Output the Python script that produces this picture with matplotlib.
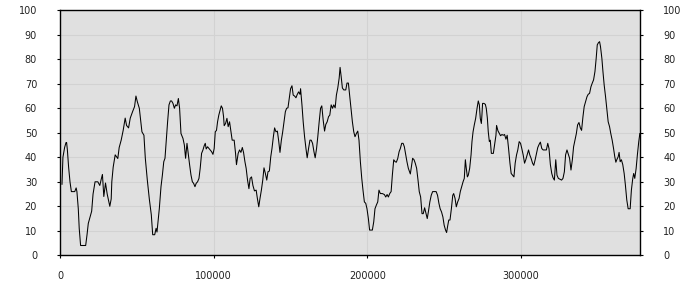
import matplotlib
matplotlib.use("Agg")
import matplotlib.pyplot as plt

# x positions in thousands
x_k = [1.3, 1.9, 3.0, 3.9, 4.3, 4.8, 5.6, 6.5, 7.4, 9.6, 10.5, 11.0, 11.9, 12.5, 13.4, 16.7,
       17.6, 18.4, 19.5, 20.6, 21.5, 22.8, 24.6, 25.9, 26.8, 27.6, 28.5, 29.6, 30.7, 32.4,
       33.3, 33.7, 34.6, 35.9, 37.6, 38.5, 39.8, 41.1, 42.4, 43.3, 44.6, 45.7, 47.2, 48.5,
       49.4, 50.3, 51.6, 53.3, 54.6, 55.5, 56.8, 58.1, 59.4, 60.3, 61.6, 62.5, 63.1, 64.0,
       64.6, 65.1, 65.7, 66.6, 67.5, 68.3, 69.2, 70.0, 70.9, 71.8, 72.6, 73.5, 74.4, 75.2,
       76.1, 77.0, 77.8, 78.7, 80.0, 80.9, 81.7, 82.6, 83.5, 84.3, 85.2, 86.1, 86.9, 87.8,
       88.6, 89.5, 90.4, 91.2, 92.1, 93.0, 93.8, 94.5, 95.1, 96.0, 96.9, 97.7, 98.6, 99.5,
       100.3, 101.0, 101.8, 102.5, 103.3, 104.2, 104.9, 105.7, 106.4, 106.8, 107.7, 108.6,
       109.4, 110.3, 111.2, 112.0, 113.3, 114.2, 114.8, 115.3, 115.9, 116.8, 117.7, 118.6,
       119.4, 120.3, 121.1, 122.0, 122.9, 123.7, 124.6, 125.5, 126.5, 127.6, 128.4, 129.3,
       130.1, 131.0, 131.9, 132.7, 133.6, 134.5, 135.3, 136.2, 137.1, 137.9, 138.8, 139.6,
       140.5, 141.4, 142.2, 143.1, 144.0, 144.8, 145.7, 146.6, 147.4, 148.3, 149.1, 150.0,
       150.9, 151.7, 152.6, 153.5, 154.3, 155.2, 156.1, 156.5, 157.4, 158.2, 159.1, 160.0,
       160.8, 161.7, 162.6, 163.4, 164.3, 165.2, 166.0, 166.9, 167.7, 168.6, 169.5, 170.3,
       171.2, 172.1, 172.9, 173.8, 174.7, 175.5, 176.4, 177.3, 178.1, 179.0, 179.8, 180.7,
       181.6, 182.2, 182.9, 183.7, 184.6, 185.9, 186.7, 187.6, 188.3, 189.1, 190.2, 191.1,
       191.9, 192.8, 193.7, 194.5, 195.4, 196.3, 197.1, 198.0, 198.9, 199.7, 200.6, 201.4,
       203.2, 204.1, 204.9, 205.8, 206.7, 207.5, 208.4, 209.7, 211.0, 211.9, 212.8, 213.6,
       214.5, 215.4, 216.2, 217.1, 218.0, 218.8, 219.7, 220.6, 221.4, 222.3, 223.2, 224.0,
       224.9, 225.7, 226.6, 227.9, 228.8, 229.4, 230.3, 231.1, 232.0, 232.9, 233.7, 234.6,
       235.5, 236.3, 237.2, 238.1, 238.9, 239.8, 240.6, 241.5, 242.4, 244.7, 245.6, 246.5,
       247.3, 248.2, 249.1, 249.9, 250.8, 251.5, 252.2, 252.9, 253.7, 254.6, 255.5, 256.1,
       257.0, 257.8, 258.7, 259.6, 260.4, 261.3, 262.2, 263.0, 263.7, 264.3, 265.0, 265.6,
       266.5, 267.4, 268.0, 268.7, 269.5, 270.4, 271.3, 272.1, 272.8, 273.4, 274.1, 274.5,
       274.9, 275.8, 276.7, 277.3, 278.0, 278.6, 279.3, 279.9, 280.6, 281.9, 282.7, 283.6,
       284.0, 284.9, 285.8, 286.6, 287.5, 288.4, 289.2, 290.1, 290.9, 291.8, 292.7, 293.5,
       294.4, 295.3, 296.1, 297.0, 297.8, 298.7, 299.6, 300.4, 301.3, 302.2, 303.0, 303.9,
       304.8, 305.6, 306.5, 307.4, 308.2, 309.1, 310.0, 310.8, 311.7, 312.5, 313.4, 314.3,
       316.4, 317.3, 318.1, 319.0, 319.9, 320.7, 321.6, 322.5, 323.3, 324.2, 326.3, 327.2,
       328.1, 328.9, 329.8, 330.7, 331.5, 332.4, 333.3, 334.1, 335.0, 335.9, 336.7, 337.6,
       338.5, 339.3, 340.2, 341.0, 341.9, 342.8, 343.6, 344.5, 345.4, 346.2, 347.1, 348.0,
       348.8, 349.5, 350.3, 351.0, 351.6, 352.5, 353.2, 354.0, 354.9, 355.7, 356.6, 357.5,
       358.3, 359.2, 360.1, 360.9, 361.6, 362.2, 363.1, 363.7, 364.4, 365.2, 366.1, 367.0,
       367.8, 368.7, 369.6, 370.9, 371.7, 372.6, 373.2, 373.9, 374.8, 375.6, 376.5, 377.2]

values = [29, 40, 44, 46, 46, 43, 36, 30, 26, 26, 27.5, 26, 19, 11, 4, 4,
          8.5, 13, 15.5, 18, 25, 30, 30, 28.5, 31, 33, 24, 29.5, 25, 20,
          23, 30, 36, 41, 39.5, 44, 47, 51, 56, 53, 52, 56, 58.6, 60.7,
          65, 62.7, 60, 50.4, 49, 39.6, 30.7, 23, 16.5, 8.4, 8.4, 11, 9.5, 15,
          19, 23.2, 28, 32.7, 38.2, 39.6, 47.7, 54.5, 61.4, 63, 63, 62, 60, 61.4,
          61, 64, 60, 49.7, 47.7, 45, 39.6, 45.7, 41, 37, 32.8, 30, 29.4, 28,
          29.4, 30, 31.4, 35.5, 41.6, 43, 44.7, 45.7, 43.4, 44.3, 43.6, 43, 42.3, 41.2,
          43.6, 50.4, 51, 54.5, 57.2, 59.3, 61, 60, 56.6, 52.9, 53.8, 55.9,
          52.5, 54.5, 50.4, 47, 47, 41.6, 37, 39, 41.6, 43, 42, 44,
          42, 38.2, 35.5, 30.7, 27.2, 31.4, 32, 28.5, 26.3, 26.6, 23.2, 19.8,
          23.2, 26.6, 30.7, 35.7, 33.4, 30.7, 34.1, 34.4, 40.2, 43.6, 48.4, 52,
          50.4, 50.7, 47, 42, 47, 50.1, 54.5, 58.6, 60, 60.2, 64, 68,
          69.2, 65.4, 65, 64.3, 65.6, 66.7, 65.7, 68, 61.4, 54.5, 48.4, 43.6,
          39.8, 43.6, 47, 47, 45.7, 42.3, 39.8, 43.6, 48.4, 54.5, 60, 61,
          55.2, 50.7, 53.4, 54.5, 56.6, 57.2, 61.4, 60, 61.4, 60.2, 65.4, 68.3,
          72.3, 76.7, 73, 68.3, 67.5, 67.5, 70.3, 70.3, 66, 61.4, 54.5, 50.4,
          48.4, 49.7, 50.7, 47, 38.2, 31.4, 26.6, 21.8, 21.2, 19, 15, 10.3,
          10.3, 13.7, 19, 20.5, 21.8, 26.6, 25.2, 25.2, 24.8, 23.8, 24.8, 23.8,
          25.2, 26, 32.7, 39, 38.2, 38, 39.5, 42.3, 43.6, 45.7, 45.7, 44.3,
          41, 38.2, 35.5, 33.2, 37, 39.6, 39, 37.6, 35.5, 30.7, 26, 23.8,
          17, 17, 19.4, 17, 15, 18.4, 21.8, 24.5, 26, 26, 24.5, 21.2,
          19, 17.7, 15.6, 12.3, 10.3, 9.3, 12, 14.4, 14.4, 19, 24.5, 25.2,
          23.2, 19.8, 21.8, 23.2, 26, 28, 30, 31.4, 39, 35.5, 32, 32.7,
          35.5, 41, 46.4, 50.4, 53.2, 55.9, 60, 63, 61.4, 55.9, 53.8, 57.5,
          62, 62, 61.6, 60, 56, 50.4, 46.4, 47, 41.6, 41.6, 45, 49,
          53, 50.8, 49.7, 48.8, 49.3, 49, 49.3, 47.4, 49, 43.6, 37.6, 33.4,
          32.7, 32, 37.6, 41, 43, 46.4, 45.7, 43.6, 41, 37.6, 39, 41,
          43, 41, 39.5, 37.6, 36.7, 39, 41.6, 44, 45.3, 46.2, 43.6, 43,
          43, 45.7, 43.6, 37, 33.4, 31.7, 30.7, 39, 32.7, 31.4, 30.7, 31.4,
          34.1, 41, 43, 41.2, 39.6, 34.8, 39, 44.3, 47, 49.7, 53.2, 54.2,
          52, 51, 56.6, 60.7, 62.7, 64.7, 65.7, 66.1, 68.8, 70.2, 71.6, 75,
          80.4, 85.9, 86.8, 87.2, 85.2, 80.4, 75, 69.5, 64.7, 60, 54.5, 52.5,
          49.7, 47, 43.6, 40.2, 38, 39, 40.2, 42, 38.2, 39, 37, 33.4,
          28.7, 22.6, 19, 19, 26.6, 31.4, 33.4, 31.4, 35.5, 41, 46.4, 49.7]

x = [v * 1000 for v in x_k]

xticks = [0, 100000, 200000, 300000]
yticks = list(range(0, 101, 10))

fig = plt.figure(figsize=(7, 3), dpi=100)
ax = fig.add_axes([60 / 700, 44.7 / 300, 580.3 / 700, 245 / 300])
ax.set_facecolor("#e0e0e0")

ax.plot(x, values, color="black", lw=0.75)

ax.set_xlim(0, 377500)
ax.set_ylim(0, 100)
ax.set_xticks(xticks)
ax.set_xticklabels([str(t) for t in xticks])
ax.set_yticks(yticks)

ax.grid(True, color="#d2d2d2", lw=0.75)
ax.set_axisbelow(True)
for s in ax.spines.values():
    s.set_color("black")
    s.set_linewidth(1)

ax.tick_params(axis="y", direction="out", length=2.5, width=0.8, pad=14,
               left=True, right=True, labelleft=True, labelright=True,
               labelsize=7, labelcolor="#222222")
ax.tick_params(axis="x", direction="out", length=2.5, width=0.8, pad=9,
               labelsize=7, labelcolor="#222222")

fig.savefig("out.png", dpi=100)
